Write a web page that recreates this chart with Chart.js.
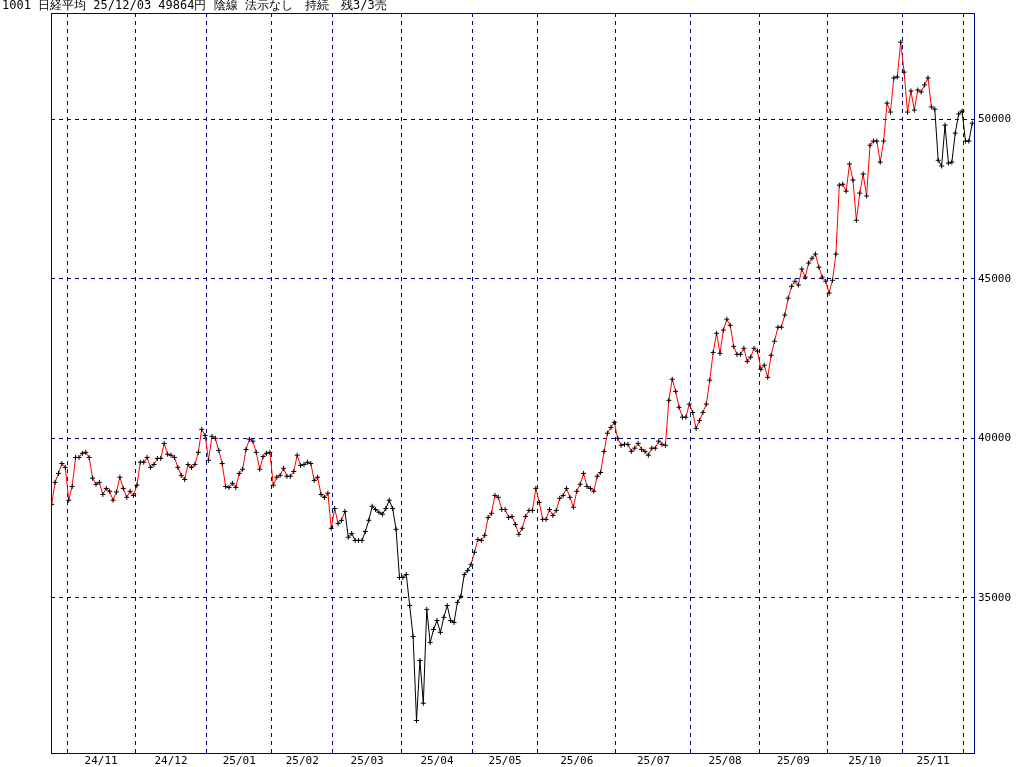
<!DOCTYPE html>
<html>
<head>
<meta charset="utf-8">
<script src="https://cdn.jsdelivr.net/npm/chart.js@4"></script>
<style>
  html, body { margin: 0; padding: 0; background: #fff; }
  #wrap { width: 1024px; height: 767px; position: relative; }
</style>
</head>
<body>
<div id="wrap"><canvas id="c" width="1024" height="767"></canvas></div>
<script>
// 日経平均 日足終値
const closes = [
  37930,38620,38900,39210,39090,
  38060,38490,39400,39400,39530,39560,39400,38750,38560,38620,38240,38430,38340,38060,38320,38780,38430,38150,38340,38210,
  38530,39250,39250,39400,39090,39180,39370,39370,39840,39500,39470,39400,39090,38840,38710,39180,39090,39180,39560,40280,40090,
  39310,40060,40000,39620,39210,38490,38460,38590,38460,38900,39030,39650,39970,39910,39560,39030,39430,39530,39560,
  38530,38780,38840,39060,38810,38810,38960,39470,39150,39180,39250,39210,38680,38780,38240,38150,38280,37180,
  37800,37330,37430,37710,36900,37020,36800,36800,36800,37080,37430,37870,37770,37680,37620,37800,38060,37800,37150,35640,
  35640,35730,34760,33790,31160,33040,31700,34640,33600,34010,34290,33920,34390,34760,34290,34230,34860,35050,35730,35860,36050,
  36430,36830,36800,36960,37520,37650,38210,38150,37770,37770,37520,37550,37300,36990,37180,37550,37740,37740,38430,
  37990,37460,37460,37770,37580,37740,38120,38210,38430,38150,37840,38340,38560,38900,38490,38430,38340,38810,38930,39590,40160,40340,40500,
  40000,39780,39810,39810,39590,39690,39840,39650,39590,39470,39690,39690,39910,39810,39780,41190,41850,41470,40970,40660,40660,41070,
  40810,40310,40560,40810,41070,41820,42690,43290,42660,43390,43730,43540,42880,42630,42630,42820,42410,42540,42820,42730,
  42160,42290,41910,42600,43040,43480,43480,43860,44390,44760,44920,44800,45300,45050,45490,45640,45770,45360,45050,44920,
  44550,44950,45770,47930,47960,47740,48590,48090,46830,47680,48280,47590,49180,49310,49310,48650,49310,50500,50220,51290,51320,52410,
  51470,50220,50880,50280,50910,50850,51070,51290,50380,50310,48710,48530,49810,48620,48650,49560,50160,50250,
  49310,49310,49870
];
// 月の最初の足のインデックスとラベル
const monthStarts = [5, 25, 46, 65, 83, 103, 124, 143, 166, 188, 208, 228, 250, 268];
const monthLabels = ['24/11','24/12','25/01','25/02','25/03','25/04','25/05','25/06','25/07','25/08','25/09','25/10','25/11'];
const yTicks = [35000, 40000, 45000, 50000];
// 黒線(売り)区間: [開始, 終了] インデックス
const sellRanges = [[86, 123], [259, 270]];

const title = '1001 日経平均 25/12/03 49864円 陰線 法示なし　持続　残3/3売';
const NAVY = '#00008b';
const FONT = '"DejaVu Sans Mono", monospace';

const points = closes.map((v, i) => ({ x: i, y: v }));

function isSell(i) {
  return sellRanges.some(r => i >= r[0] && i < r[1]);
}

const decor = {
  id: 'decor',
  afterDraw(chart) {
    const c = chart.ctx, a = chart.chartArea;
    const xs = chart.scales.x, ys = chart.scales.y;
    c.save();
    c.strokeStyle = NAVY;
    c.lineWidth = 1;
    c.strokeRect(a.left + 0.5, a.top + 0.5, a.right - a.left, a.bottom - a.top);
    c.fillStyle = '#000';
    c.font = '12px ' + FONT;
    c.textBaseline = 'middle';
    c.textAlign = 'left';
    c.fillText(title, 2, 6);
    c.font = '11px ' + FONT;
    yTicks.forEach(v => c.fillText(String(v), a.right + 4, ys.getPixelForValue(v)));
    c.textAlign = 'center';
    monthLabels.forEach((m, i) => {
      const x0 = xs.getPixelForValue(monthStarts[i] - 0.5);
      const x1 = xs.getPixelForValue(monthStarts[i + 1] - 0.5);
      c.fillText(m, (x0 + x1) / 2, a.bottom + 8);
    });
    c.restore();
  }
};

new Chart(document.getElementById('c'), {
  type: 'line',
  data: {
    datasets: [{
      data: points,
      borderWidth: 1,
      borderColor: '#ff0000',
      segment: {
        borderColor: ctx => isSell(ctx.p0DataIndex) ? '#000' : '#ff0000'
      },
      pointStyle: 'cross',
      pointRadius: 2.5,
      pointBorderColor: '#000',
      pointBorderWidth: 1,
      tension: 0
    }]
  },
  options: {
    responsive: false,
    animation: false,
    layout: { padding: { left: 51, right: 50, top: 13, bottom: 14 } },
    plugins: { legend: { display: false }, tooltip: { enabled: false } },
    scales: {
      x: {
        type: 'linear',
        min: -0.2,
        max: 270.5,
        afterBuildTicks: s => { s.ticks = monthStarts.map(v => ({ value: v - 0.5 })); },
        ticks: { display: false },
        grid: { color: NAVY, drawTicks: false },
        border: { display: false, dash: [4, 4] }
      },
      y: {
        min: 30141,
        max: 53323,
        afterBuildTicks: s => { s.ticks = yTicks.map(v => ({ value: v })); },
        ticks: { display: false },
        grid: { color: NAVY, drawTicks: false },
        border: { display: false, dash: [4, 4] }
      }
    }
  },
  plugins: [decor]
});
</script>
</body>
</html>
